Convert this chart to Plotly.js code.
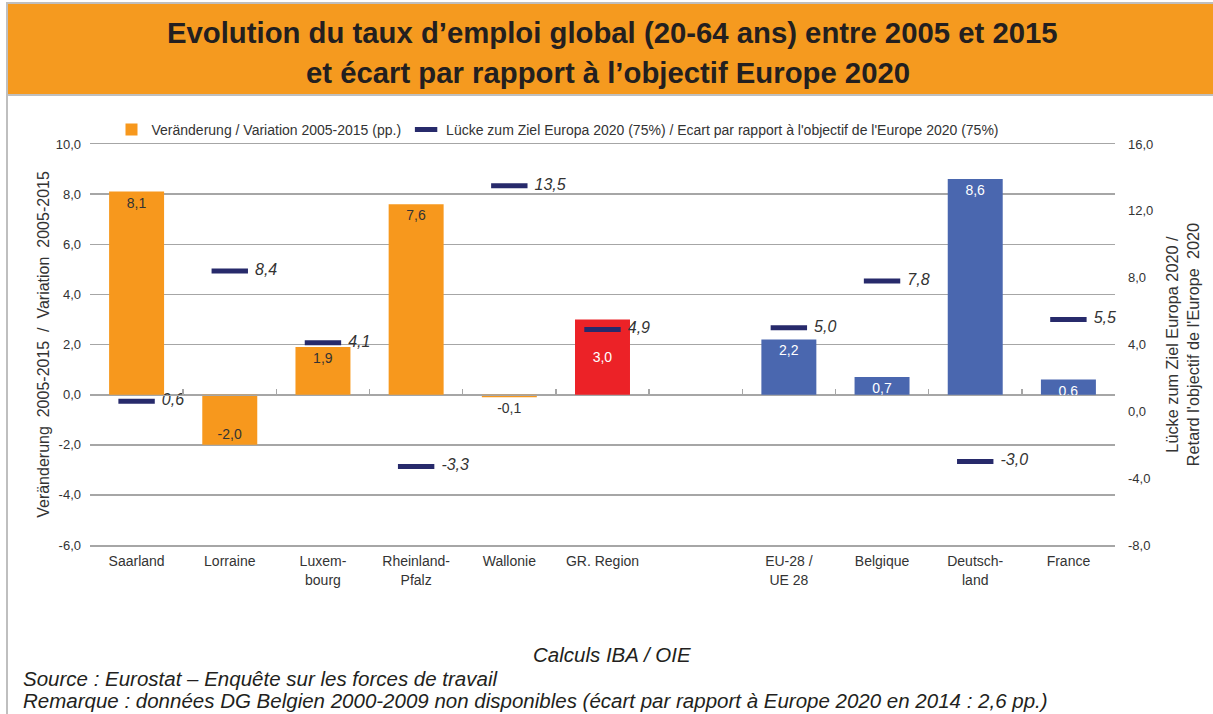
<!DOCTYPE html>
<html>
<head>
<meta charset="utf-8">
<script src="https://cdn.plot.ly/plotly-3.0.1.min.js"></script>
<style>
  html, body { margin: 0; padding: 0; background: #ffffff; }
  #chart { width: 1213px; height: 714px; }
</style>
</head>
<body>
<div id="chart"></div>
<script>
// ---- data ----
const categories = ['Saarland', 'Lorraine', 'Luxem-<br>bourg', 'Rheinland-<br>Pfalz', 'Wallonie', 'GR. Region', '', 'EU-28 /<br>UE 28', 'Belgique', 'Deutsch-<br>land', 'France'];
const groups = ['region', 'region', 'region', 'region', 'region', 'gr', 'none', 'country', 'country', 'country', 'country'];
const variation = [8.1, -2.0, 1.9, 7.6, -0.1, 3.0, null, 2.2, 0.7, 8.6, 0.6];
const gapToTarget = [0.6, 8.4, 4.1, -3.3, 13.5, 4.9, null, 5.0, 7.8, -3.0, 5.5];
const leftTicks = [-6, -4, -2, 0, 2, 4, 6, 8, 10];
const rightTicks = [-8, -4, 0, 4, 8, 12, 16];

const seriesNames = ['Veränderung / Variation 2005-2015 (pp.)', 'Lücke zum Ziel Europa 2020 (75%) / Ecart par rapport à l\'objectif de l\'Europe 2020 (75%)'];
const titleLines = ['Evolution du taux d\u2019emploi global (20-64 ans) entre 2005 et 2015', 'et écart par rapport à l\u2019objectif Europe 2020'];
const leftTitle = 'Veränderung  2005-2015  /  Variation  2005-2015';
const rightTitle = 'Lücke zum Ziel Europa 2020 /<br>Retard l\'objectif de l\'Europe  2020';
const noteCalc = 'Calculs IBA / OIE';
const noteSource = 'Source : Eurostat \u2013 Enquête sur les forces de travail';
const noteRemark = 'Remarque : données DG Belgien 2000-2009 non disponibles (écart par rapport à Europe 2020 en 2014 : 2,6 pp.)';

// ---- styles ----
const colorMap = { region: '#F7981D', gr: '#EC2227', country: '#4A67AF', none: '#ffffff' };
const textColorMap = { region: '#333333', gr: '#ffffff', country: '#ffffff', none: '#333333' };
const navy = '#272A6B';
const grid = '#A6A6A6';
const FONT = '"Liberation Sans", Arial, sans-serif';
const fmt = v => v.toFixed(1).replace('.', ',');

const xIdx = categories.map((_, i) => i);
const boundaries = [];
for (let i = 0; i <= categories.length; i++) boundaries.push(i - 0.5);

// plot area in pixels
const W = 1213, H = 714, L = 90, R = 98, T = 144, B = 169;
const pw = W - L - R, ph = H - T - B;
const px = x => (x - L) / pw;
const py = y => (H - B - y) / ph;

// labels: the red GR bar carries its label in the middle (as in the source chart)
const isMid = groups.map(g => g === 'gr');

const barTrace = {
  type: 'bar',
  name: seriesNames[0],
  x: xIdx,
  y: variation,
  xaxis: 'x',
  yaxis: 'y',
  width: 0.59,
  marker: { color: groups.map(g => colorMap[g]) },
  texttemplate: variation.map((v, i) => (v === null || isMid[i]) ? '' : '%{y:.1f}'),
  textposition: variation.map(v => (v !== null && Math.abs(v) < 0.3) ? 'outside' : 'inside'),
  insidetextanchor: 'end',
  textangle: 0,
  insidetextfont: { family: FONT, size: 14, color: groups.map(g => textColorMap[g]) },
  outsidetextfont: { family: FONT, size: 14, color: '#333333' },
  cliponaxis: false,
  hoverinfo: 'skip'
};

const barLabelMid = {
  type: 'bar',
  name: seriesNames[0],
  showlegend: false,
  x: xIdx,
  y: variation,
  xaxis: 'x',
  yaxis: 'y',
  width: 0.59,
  marker: { color: 'rgba(0,0,0,0)' },
  texttemplate: variation.map((v, i) => (v !== null && isMid[i]) ? '%{y:.1f}' : ''),
  textposition: 'inside',
  insidetextanchor: 'middle',
  textangle: 0,
  insidetextfont: { family: FONT, size: 14, color: groups.map(g => textColorMap[g]) },
  hoverinfo: 'skip'
};

const gapTrace = {
  type: 'scatter',
  mode: 'markers+text',
  name: seriesNames[1],
  x: xIdx,
  y: gapToTarget,
  xaxis: 'x2',
  yaxis: 'y2',
  marker: { symbol: 'line-ew', size: 26, color: navy, line: { color: navy, width: 5 } },
  texttemplate: '\u2002%{y:.1f}',
  textposition: 'middle right',
  textfont: { family: FONT, size: 16, color: '#333333', style: 'italic' },
  cliponaxis: false,
  hoverinfo: 'skip'
};

const layout = {
  width: W,
  height: H,
  margin: { l: L, r: R, t: T, b: B, pad: 0 },
  paper_bgcolor: '#ffffff',
  plot_bgcolor: '#ffffff',
  separators: ', ',
  font: { family: FONT, color: '#333333' },
  barmode: 'overlay',
  uniformtext: { minsize: 14, mode: 'show' },
  showlegend: true,
  legend: {
    orientation: 'h',
    x: px(558), xanchor: 'center',
    y: py(130), yanchor: 'middle',
    font: { family: FONT, size: 14, color: '#333333' },
    itemwidth: 30,
    bgcolor: 'rgba(0,0,0,0)'
  },
  xaxis: {
    range: [-0.5, categories.length - 0.5],
    tickvals: xIdx,
    ticktext: categories,
    ticks: '',
    ticklabelstandoff: 3,
    showgrid: false,
    zeroline: false,
    showline: true,
    mirror: true,
    linecolor: grid,
    linewidth: 1.5,
    tickfont: { family: FONT, size: 14, color: '#333333' },
    fixedrange: true
  },
  xaxis2: {
    overlaying: 'x',
    anchor: 'free',
    side: 'bottom',
    position: (0 - leftTicks[0]) / (leftTicks[leftTicks.length - 1] - leftTicks[0]),
    range: [-0.5, categories.length - 0.5],
    tickvals: boundaries,
    ticks: 'inside',
    ticklen: 6,
    tickwidth: 1.5,
    tickcolor: grid,
    showticklabels: false,
    showline: true,
    linecolor: grid,
    linewidth: 1.5,
    showgrid: false,
    zeroline: false,
    fixedrange: true
  },
  yaxis: {
    range: [leftTicks[0], leftTicks[leftTicks.length - 1]],
    tickvals: leftTicks,
    ticktext: leftTicks.map(fmt),
    showgrid: true,
    gridcolor: grid,
    gridwidth: 1.5,
    zeroline: false,
    showline: false,
    ticks: '',
    ticklabelstandoff: 8,
    tickfont: { family: FONT, size: 13, color: '#333333' },
    title: { text: leftTitle, font: { family: FONT, size: 16, color: '#333333' }, standoff: 2 },
    fixedrange: true
  },
  yaxis2: {
    overlaying: 'y',
    side: 'right',
    anchor: 'x',
    range: [rightTicks[0], rightTicks[rightTicks.length - 1]],
    tickvals: rightTicks,
    ticktext: rightTicks.map(fmt),
    showgrid: false,
    zeroline: false,
    showline: false,
    ticks: '',
    ticklabelstandoff: 12,
    tickfont: { family: FONT, size: 13, color: '#333333' },
    title: { text: rightTitle, font: { family: FONT, size: 16.3, color: '#333333' }, standoff: 14 },
    fixedrange: true
  },
  shapes: [
    // outer frame
    { type: 'rect', xref: 'paper', yref: 'paper', x0: px(7), x1: px(1230), y0: py(730), y1: py(3),
      line: { color: '#BFBFBF', width: 2 }, fillcolor: 'rgba(0,0,0,0)', layer: 'below' },
    // orange banner
    { type: 'rect', xref: 'paper', yref: 'paper', x0: px(8), x1: px(1230), y0: py(94), y1: py(4),
      line: { width: 0 }, fillcolor: '#F59A1F', layer: 'below' },
    // line under banner
    { type: 'line', xref: 'paper', yref: 'paper', x0: px(7), x1: px(1230), y0: py(95), y1: py(95),
      line: { color: '#BFBFBF', width: 2 }, layer: 'below' }
  ],
  annotations: [
    { text: '<b>' + titleLines[0] + '</b>', xref: 'paper', yref: 'paper', x: px(612), y: py(32),
      xanchor: 'center', yanchor: 'middle', showarrow: false, font: { family: FONT, size: 29.3, color: '#231F20' } },
    { text: '<b>' + titleLines[1] + '</b>', xref: 'paper', yref: 'paper', x: px(608), y: py(72),
      xanchor: 'center', yanchor: 'middle', showarrow: false, font: { family: FONT, size: 29.3, color: '#231F20' } },
    { text: noteCalc, xref: 'paper', yref: 'paper', x: px(612), y: py(654),
      xanchor: 'center', yanchor: 'middle', showarrow: false, font: { family: FONT, size: 20.5, color: '#231F20', style: 'italic' } },
    { text: noteSource, xref: 'paper', yref: 'paper', x: px(21), y: py(678),
      xanchor: 'left', yanchor: 'middle', showarrow: false, font: { family: FONT, size: 20.5, color: '#231F20', style: 'italic' } },
    { text: noteRemark, xref: 'paper', yref: 'paper', x: px(21), y: py(700),
      xanchor: 'left', yanchor: 'middle', showarrow: false, font: { family: FONT, size: 20.5, color: '#231F20', style: 'italic' } }
  ]
};

Plotly.newPlot('chart', [barTrace, barLabelMid, gapTrace], layout, { displayModeBar: false, staticPlot: true });
</script>
</body>
</html>
